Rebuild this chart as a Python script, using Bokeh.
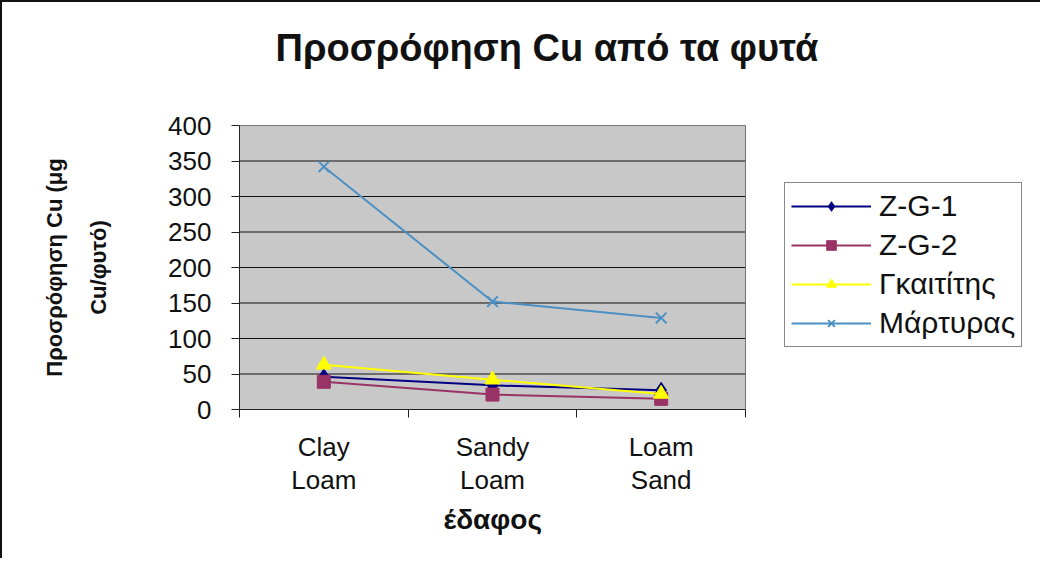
from bokeh.plotting import figure
from bokeh.models import FixedTicker, Legend, LegendItem, Range1d, Title
from bokeh.embed import file_html
from bokeh.resources import INLINE

categories = ["Clay Loam", "Sandy Loam", "Loam Sand"]
tick_labels = ["Clay\nLoam", "Sandy\nLoam", "Loam\nSand"]
series_names = ["Z-G-1", "Z-G-2", "Γκαιτίτης", "Μάρτυρας"]
zg1 = [46, 34, 27]
zg2 = [39, 21, 15]
gaititis = [63, 42, 22]
martyras = [342, 152, 129]
y_ticks = [0, 50, 100, 150, 200, 250, 300, 350, 400]
chart_title = "Προσρόφηση Cu από τα φυτά"
x_title = "έδαφος"
y_title = "Προσρόφηση Cu (μg\nCu/φυτό)"

FONT = "Liberation Sans"

W, H = 1040, 558
LEFT, TOP, BOTTOM = 237, 123, 151
AREA_PX = 506  # width of the grey plot area in pixels

n = len(categories)
xs = [i + 0.5 for i in range(n)]
boundaries = list(range(n + 1))
ymax = y_ticks[-1]
x_end = n * (W - LEFT) / AREA_PX

p = figure(width=W, height=H, output_backend="svg", toolbar_location=None,
           x_range=Range1d(0, x_end), y_range=Range1d(0, ymax),
           min_border_left=LEFT, min_border_right=0, min_border_top=TOP,
           min_border_bottom=BOTTOM)
p.styles = {"border-left": "2px solid #111111", "border-top": "2px solid #111111"}
p.background_fill_color = "white"
p.border_fill_color = "white"
p.outline_line_color = None

# grey plot area, gridlines and its border
p.quad(left=0, right=n, bottom=0, top=ymax, fill_color="#C8C8C8", line_color=None)
p.segment(x0=[0] * len(y_ticks), x1=[n] * len(y_ticks), y0=y_ticks, y1=y_ticks,
          line_color="#111111", line_width=1)
p.quad(left=0, right=n, bottom=0, top=ymax, fill_color=None, line_color="#707070",
       line_width=1)

# title: a spacer panel next to the frame, then the title itself
p.add_layout(Title(text=" ", text_font_size="1px", standoff=54), "above")
p.add_layout(Title(text=chart_title, text_font=FONT, text_font_size="38px",
                   text_font_style="bold", text_color="#111111", align="left",
                   offset=36, standoff=0), "above")

# x axis
xa = p.xaxis[0]
xa.bounds = (0, n)
xa.ticker = FixedTicker(ticks=xs, minor_ticks=boundaries)
xa.major_label_overrides = {x: t for x, t in zip(xs, tick_labels)}
xa.major_tick_out = 0
xa.major_tick_in = 0
xa.minor_tick_out = 8
xa.minor_tick_in = 0
xa.minor_tick_line_color = "#222222"
xa.axis_line_color = "#222222"
xa.major_label_text_font = FONT
xa.major_label_text_font_size = "26px"
xa.major_label_text_color = "#111111"
xa.major_label_text_line_height = 1.1
xa.major_label_standoff = 14

# x axis title, centred under the grey plot area
p.add_layout(Title(text=x_title, text_font=FONT, text_font_size="28px",
                   text_font_style="bold", text_color="#111111", align="left",
                   offset=204, standoff=8), "below")

# y axis
ya = p.yaxis[0]
ya.ticker = FixedTicker(ticks=y_ticks)
ya.major_tick_out = 8
ya.major_tick_in = 0
ya.minor_tick_out = 0
ya.minor_tick_in = 0
ya.axis_line_color = "#222222"
ya.major_tick_line_color = "#222222"
ya.major_label_text_font = FONT
ya.major_label_text_font_size = "26px"
ya.major_label_text_color = "#111111"
ya.major_label_standoff = 20
ya.axis_label = y_title
ya.axis_label_text_font = FONT
ya.axis_label_text_font_size = "22px"
ya.axis_label_text_font_style = "bold"
ya.axis_label_text_color = "#111111"
ya.axis_label_text_line_height = 1.75
ya.axis_label_standoff = 54

p.xgrid.visible = False
p.ygrid.visible = False

styles = [
    (zg1, "#000080", "diamond", 16, "#000080"),
    (zg2, "#993366", "square", 13, "#993366"),
    (gaititis, "#FFFF00", "triangle", 15, "#FFFF00"),
    (martyras, "#4A90C4", "x", 15, "#4A90C4"),
]

items = []
for name, (vals, col, mk, sz, mcol) in zip(series_names, styles):
    ln = p.line(xs, vals, line_color=col, line_width=2)
    if mk == "x":
        sc = p.scatter(xs, vals, marker=mk, size=sz, line_color=mcol, line_width=2)
    else:
        sc = p.scatter(xs, vals, marker=mk, size=sz, fill_color=mcol, line_color=mcol)
    items.append(LegendItem(label=name, renderers=[ln, sc]))

legend = Legend(items=items, location=(545, 62))
legend.border_line_color = "#111111"
legend.border_line_width = 1
legend.background_fill_color = "white"
legend.background_fill_alpha = 1
legend.label_text_font = FONT
legend.label_text_font_size = "30px"
legend.label_text_color = "#111111"
legend.glyph_width = 80
legend.glyph_height = 24
legend.spacing = 5
legend.padding = 6
legend.label_standoff = 8
legend.margin = 0
p.add_layout(legend, "center")

open("out.html", "w").write(file_html(p, INLINE))
